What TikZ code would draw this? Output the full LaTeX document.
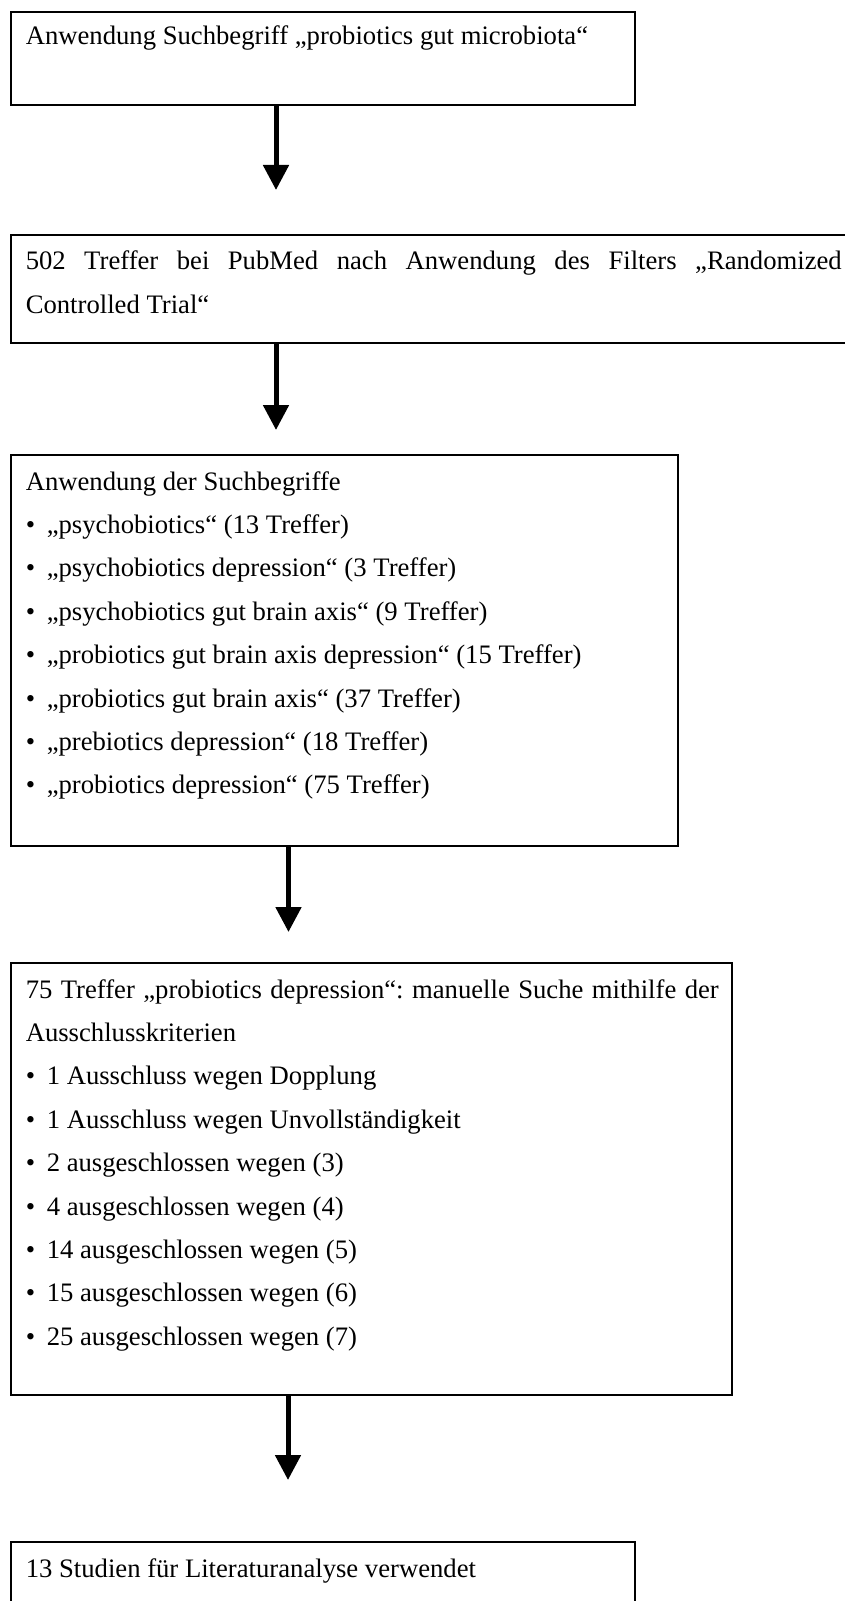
\documentclass[tikz,border=0pt]{standalone}
\usepackage{fontspec}
\setmainfont{Liberation Serif}
\usetikzlibrary{arrows.meta}
\newcommand{\punkt}[1]{\\\makebox[15.75pt][l]{\textbullet}#1}

\begin{document}
\begin{tikzpicture}[x=0.75pt,y=-0.75pt]
            \tikzset{
            box node/.style={rectangle,draw,line width=1.5pt,anchor=north west,inner sep=0},
            txt node/.style={anchor=base west,inner sep=0,text width=#1,align=justify,
                font=\fontsize{20pt}{32.55pt}\selectfont},
            down arrow/.style={draw,line width=3.75pt,-{Triangle[length=18.75pt,width=18.75pt]}}
            }
            \useasboundingbox (0,0) rectangle (845,1601);

            \node[box node,minimum width=468pt,minimum height=69.75pt] (1) at (10,11) {};
            \node[box node,minimum width=645pt,minimum height=81pt] (2) at (10,234) {};
            \node[box node,minimum width=500.25pt,minimum height=293.25pt] (3) at (10,454) {};
            \node[box node,minimum width=540.75pt,minimum height=324pt] (4) at (10,962) {};
            \node[box node,minimum width=468pt,minimum height=60pt] (5) at (10,1541) {};

            \node[txt node=450pt] (t1) at (25.5,45) {Anwendung Suchbegriff „probiotics gut microbiota“};
            \node[txt node=612pt] (t2) at (25.5,270) {\makebox[612pt][s]{502\hfill Treffer\hfill bei\hfill PubMed\hfill nach\hfill Anwendung\hfill des\hfill Filters\hfill „Randomized}\\Controlled Trial“};
            \node[txt node=450pt] (t3) at (25.5,490) {Anwendung der Suchbegriffe
                \punkt{„psychobiotics“ (13 Treffer)}
                \punkt{„psychobiotics depression“ (3 Treffer)}
                \punkt{„psychobiotics gut brain axis“ (9 Treffer)}
                \punkt{„probiotics gut brain axis depression“ (15 Treffer)}
                \punkt{„probiotics gut brain axis“ (37 Treffer)}
                \punkt{„prebiotics depression“ (18 Treffer)}
                \punkt{„probiotics depression“ (75 Treffer)}};
            \node[txt node=519.75pt] (t4) at (25.5,998) {\makebox[519.75pt][s]{75\hfill Treffer\hfill „probiotics\hfill depression“:\hfill manuelle\hfill Suche\hfill mithilfe\hfill der}\\Ausschlusskriterien
                \punkt{1 Ausschluss wegen Dopplung}
                \punkt{1 Ausschluss wegen Unvollständigkeit}
                \punkt{2 ausgeschlossen wegen (3)}
                \punkt{4 ausgeschlossen wegen (4)}
                \punkt{14 ausgeschlossen wegen (5)}
                \punkt{15 ausgeschlossen wegen (6)}
                \punkt{25 ausgeschlossen wegen (7)}};
            \node[txt node=450pt] (t5) at (25.5,1577) {13 Studien für Literaturanalyse verwendet};

            \coordinate (a1) at (276,190);
            \coordinate (a2) at (276,430);
            \coordinate (a3) at (288.5,932);
            \coordinate (a4) at (288,1480);

            \path[down arrow] (1.south -| a1) -- (a1);
            \path[down arrow] (2.south -| a2) -- (a2);
            \path[down arrow] (3.south -| a3) -- (a3);
            \path[down arrow] (4.south -| a4) -- (a4);
        \end{tikzpicture}
\end{document}
